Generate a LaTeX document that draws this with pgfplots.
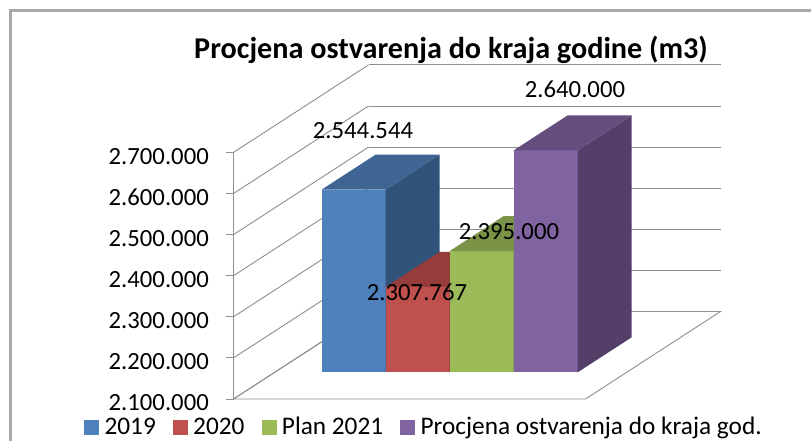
\documentclass[border=0pt]{standalone}
\usepackage{pgfplots}
\pgfplotsset{compat=1.18}
\usepackage{fontspec}
\setmainfont{Carlito}
\definecolor{gridc}{HTML}{8E8E8E}
\definecolor{frameC}{HTML}{A8A8A8}
\definecolor{bF}{HTML}{4F81BD}\definecolor{bT}{HTML}{3E6594}\definecolor{bS}{HTML}{325379}
\definecolor{rF}{HTML}{C0504D}\definecolor{rT}{HTML}{963D3B}\definecolor{rS}{HTML}{7E3331}
\definecolor{gF}{HTML}{9BBB59}\definecolor{gT}{HTML}{7A9346}\definecolor{gS}{HTML}{657A3A}
\definecolor{pF}{HTML}{8064A2}\definecolor{pT}{HTML}{644E7E}\definecolor{pS}{HTML}{533F67}
\newcommand{\barbox}[6]{%
 \addplot3[fill=#4,draw=none,forget plot] coordinates {(#1,0.305,2100)(#2,0.305,2100)(#2,0.305,#3)(#1,0.305,#3)} --cycle;
 \addplot3[fill=#6,draw=none,forget plot] coordinates {(#2,0.305,2100)(#2,0.705,2100)(#2,0.705,#3)(#2,0.305,#3)} --cycle;
 \addplot3[fill=#5,draw=none,forget plot] coordinates {(#1,0.305,#3)(#2,0.305,#3)(#2,0.705,#3)(#1,0.705,#3)} --cycle;
}
\begin{document}
\begin{tikzpicture}[x=1pt,y=1pt]
\clip (0,0) rectangle (811,440);
\fill[white] (0,0) rectangle (811,440);
\draw[frameC,line width=2.6pt] (10.5,-2) -- (10.5,429.5) -- (815,429.5);
\begin{axis}[
 at={(233.5pt,41pt)},anchor=south west,
 x={(64pt,0pt)},y={(135pt,87.5pt)},z={(0pt,0.411pt)},
 xmin=-0.734,xmax=4.766,ymin=0,ymax=1,zmin=2100,zmax=2700,
 clip=false,
 axis lines=box,
 x axis line style={draw=none},y axis line style={draw=none},
 z axis line style={draw=none},
 xtick=\empty,ytick=\empty,
 ztick={2100,2200,2300,2400,2500,2600,2700},
 zticklabels={2.100.000,2.200.000,2.300.000,2.400.000,2.500.000,2.600.000,2.700.000},
 zticklabel pos=left,
 zmajorgrids=true,
 grid style={gridc,line width=0.9pt},
 major tick length=0pt,
 tick style={draw=none},
 tick label style={font=\fontsize{24.7}{26}\selectfont,/pgf/number format/assume math mode=true,anchor=east,inner sep=0pt,xshift=-24.5pt,yshift=-4pt},
 legend columns=4,
 legend style={draw=none,fill=none,at={(axis description cs:0.391,-0.083)},anchor=center,
   font=\fontsize{25.3}{27}\selectfont,
   /tikz/every even column/.append style={column sep=15pt},
   /tikz/every odd column/.append style={column sep=4pt}},
 legend image code/.code={\fill[#1] (0pt,-7pt) rectangle (14pt,7pt);},
]
\addlegendimage{bF}\addlegendentry{2019}
\addlegendimage{rF}\addlegendentry{2020}
\addlegendimage{gF}\addlegendentry{Plan 2021}
\addlegendimage{pF}\addlegendentry{Procjena ostvarenja do kraja god.}
% floor and value axis
\addplot3[gridc,line width=0.9pt,forget plot] coordinates {(-0.734,0,2100)(4.766,0,2100)(4.766,1,2100)(-0.734,1,2100)(-0.734,0,2100)};
\addplot3[gridc,line width=1.1pt,forget plot] coordinates {(-0.734,0,2100)(-0.734,0,2700)};
\pgfplotsinvokeforeach{2100,2200,2300,2400,2500,2600,2700}{
 \addplot3[gridc,line width=0.9pt,forget plot] coordinates {(-0.846,0,#1)(-0.734,0,#1)};
}
\barbox{0}{1}{2544.544}{bF}{bT}{bS}
\barbox{1}{2}{2307.767}{rF}{rT}{rS}
\barbox{2}{3}{2395}{gF}{gT}{gS}
\barbox{3}{4}{2640}{pF}{pT}{pS}
\end{axis}
\node[font=\fontsize{30.2}{32}\bfseries\selectfont] at (451,390) {Procjena ostvarenja do kraja godine (m3)};
\begin{scope}[every node/.style={font=\fontsize{24.7}{26}\selectfont}]
\node at (363,309) {2.544.544};
\node at (417,148) {2.307.767};
\node at (509,208) {2.395.000};
\node at (575,351) {2.640.000};
\end{scope}
\end{tikzpicture}
\end{document}
